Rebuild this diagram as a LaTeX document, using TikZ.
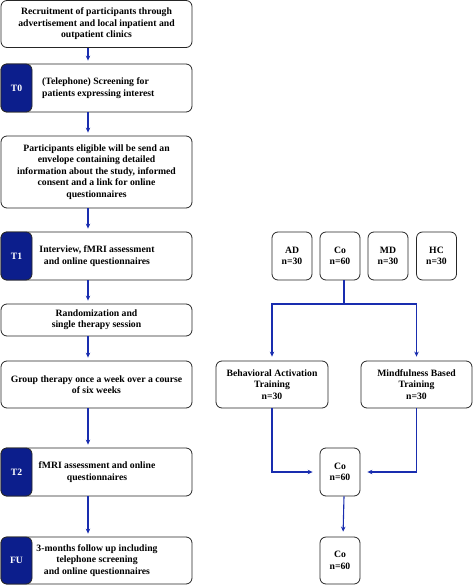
\documentclass[tikz,border=0pt]{standalone}
\usepackage{fontspec}
\setmainfont{Liberation Serif}
\usetikzlibrary{arrows.meta,calc}
\definecolor{arrowblue}{RGB}{25,45,175}
\definecolor{navy}{RGB}{12,30,140}
\tikzset{
  fnt/.style={font=\fontsize{9.7}{11.4}\selectfont\bfseries},
  box/.style={draw=black!85,line width=0.8pt,rounded corners=6pt,align=center,inner sep=2pt,fnt},
  tag/.style={draw=black!85,fill=navy,line width=0.8pt,rounded corners=6pt,text=white,
    fnt,minimum width=31pt,inner sep=0pt},
  txt/.style={align=center,fnt,inner sep=0pt},
  conn/.style={draw=arrowblue,line width=1.1pt,-{Stealth[length=5pt,width=4.5pt]}},
  line/.style={draw=arrowblue,line width=1.1pt}
}
\begin{document}
\begin{tikzpicture}[x=1pt,y=-1pt]
\useasboundingbox (0,0) rectangle (473,585);
% left column
\node[box,minimum width=191pt,minimum height=47pt] (b1) at (96.5,24)
  {Recruitment of participants through\\advertisement and local inpatient and\\outpatient clinics};
\node[box,minimum width=191pt,minimum height=48pt] (b2) at (96.5,88) {};
\node[tag,minimum height=48pt] (t0) at (16.5,88) {T0};
\node[txt,align=left,anchor=west] (b2t) at (42,88) {(Telephone) Screening for\\patients expressing interest};
\node[box,minimum width=191pt,minimum height=72pt] (b3) at (96.5,172)
  {Participants eligible will be send an\\envelope containing detailed\\information about the study, informed\\consent and a link for online\\questionnaires};
\node[box,minimum width=191pt,minimum height=48pt] (b4) at (96.5,256) {};
\node[tag,minimum height=48pt] (t1) at (16.5,256) {T1};
\node[txt] (b4t) at (97,256) {Interview, fMRI assessment\\and online questionnaires};
\node[box,minimum width=191pt,minimum height=32pt] (b5) at (96.5,320)
  {Randomization and\\single therapy session};
\node[box,minimum width=191pt,minimum height=47pt] (b6) at (96.5,384.5)
  {Group therapy once a week over a course\\of six weeks};
\node[box,minimum width=191pt,minimum height=48pt] (b7) at (96.5,472) {};
\node[tag,minimum height=48pt] (t2) at (16.5,472) {T2};
\node[txt] (b7t) at (97,472) {fMRI assessment and online\\questionnaires};
\node[box,minimum width=191pt,minimum height=47pt] (b8) at (96.5,560.5) {};
\node[tag,minimum height=47pt] (fu) at (16.5,560.5) {FU};
\node[txt] (b8t) at (97,560.5) {3-months follow up including\\telephone screening\\and online questionnaires};
\foreach \a/\b in {b1/b2,b2/b3,b3/b4,b4/b5,b5/b6,b6/b7,b7/b8}
  \draw[conn,shorten >=3pt] (\a.south -| 88,0) -- (\b.north -| 88,0);
% right column
\node[box,minimum width=40pt,minimum height=48pt] (ad) at (292,256) {AD\\n=30};
\node[box,minimum width=40pt,minimum height=48pt] (co) at (340,256) {Co\\n=60};
\node[box,minimum width=40pt,minimum height=48pt] (md) at (388,256) {MD\\n=30};
\node[box,minimum width=40pt,minimum height=48pt] (hc) at (436.5,256) {HC\\n=30};
\node[box,minimum width=112pt,minimum height=47pt] (ba) at (272,384.5) {Behavioral Activation\\Training\\n=30};
\node[box,minimum width=111pt,minimum height=47pt] (mb) at (416.5,384.5) {Mindfulness Based\\Training\\n=30};
\node[box,minimum width=40pt,minimum height=48pt] (co2) at (340,472) {Co\\n=60};
\node[box,minimum width=40pt,minimum height=47pt] (co3) at (340,560.5) {Co\\n=60};
\coordinate (split) at (344,304);
\draw[line] ($(co.south)+(4,0)$) -- (split);
\draw[conn,shorten >=4pt] (split) -| (ba.north);
\draw[conn,shorten >=4pt] (split) -| (mb.north);
\draw[conn,shorten >=7pt] (ba.south) |- (co2.west);
\draw[conn,shorten >=7pt] (mb.south) |- (co2.east);
\draw[conn,shorten >=5pt] ($(co2.south)+(4,0)$) -- ($(co3.north)+(3,0)$);
\end{tikzpicture}
\end{document}
